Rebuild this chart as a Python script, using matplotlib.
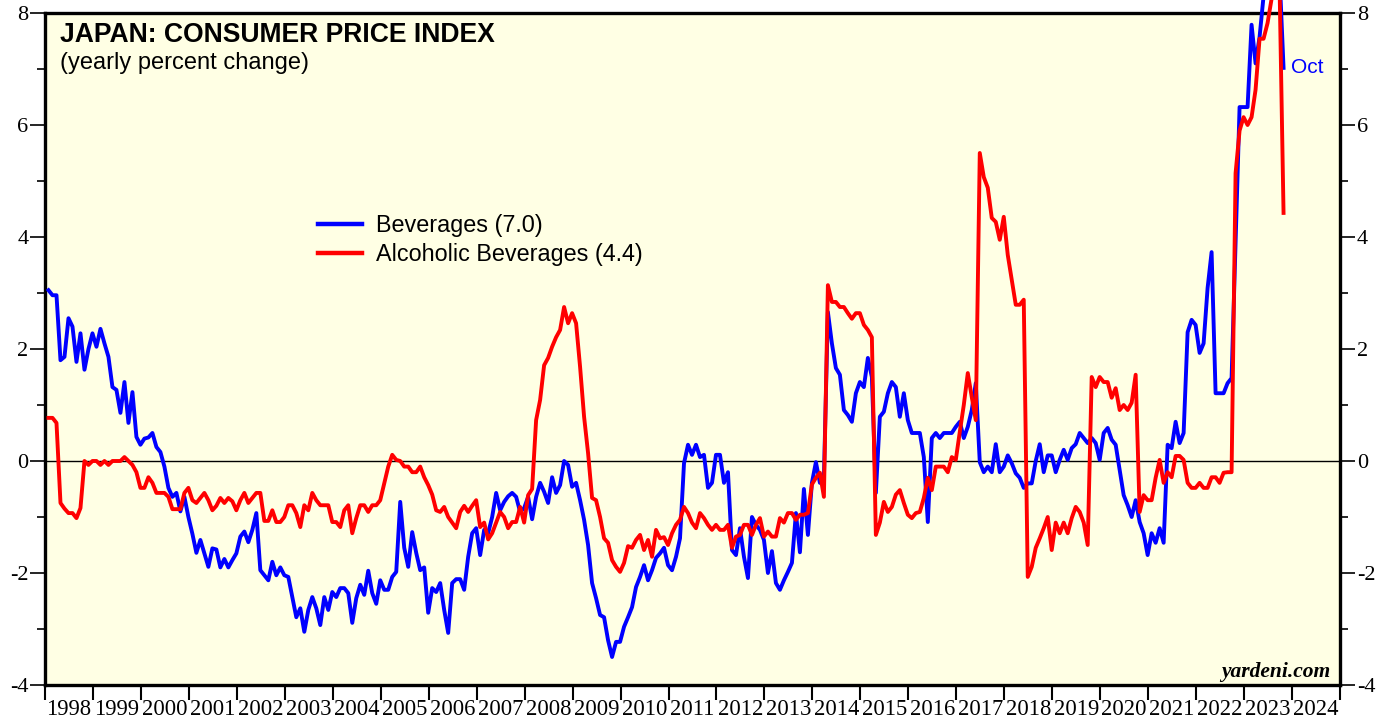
import numpy as np
import matplotlib
matplotlib.use("Agg")
import matplotlib.pyplot as plt
from matplotlib.ticker import FixedLocator, NullFormatter

plt.rcParams["axes.unicode_minus"] = False

### DATA (yearly % change, monthly, Jan 1998 - Oct 2023) ###

start_year = 1998
last_label = "Oct"

# Beverages
beverages = [
    3.05, 2.96, 2.96, 1.80, 1.86, 2.55, 2.40, 1.77, 2.28, 1.63, 2.00, 2.28,  # 1998
    2.04, 2.36, 2.10, 1.86, 1.32, 1.27, 0.86, 1.41, 0.68, 1.23, 0.43, 0.29,  # 1999
    0.40, 0.42, 0.50, 0.25, 0.16, -0.10, -0.48, -0.64, -0.57, -0.90, -0.64, -1.00,  # 2000
    -1.30, -1.64, -1.41, -1.65, -1.89, -1.56, -1.58, -1.90, -1.75, -1.90, -1.77, -1.65,  # 2001
    -1.35, -1.26, -1.45, -1.23, -0.93, -1.95, -2.04, -2.13, -1.80, -2.04, -1.90, -2.04,  # 2002
    -2.07, -2.43, -2.79, -2.63, -3.05, -2.66, -2.43, -2.63, -2.93, -2.43, -2.66, -2.34,  # 2003
    -2.43, -2.27, -2.27, -2.36, -2.89, -2.45, -2.21, -2.39, -1.96, -2.36, -2.55, -2.13,  # 2004
    -2.30, -2.30, -2.07, -1.98, -0.73, -1.55, -1.89, -1.27, -1.64, -1.95, -1.90, -2.71,  # 2005
    -2.27, -2.34, -2.18, -2.66, -3.07, -2.18, -2.11, -2.11, -2.30, -1.71, -1.29, -1.20,  # 2006
    -1.68, -1.23, -1.29, -1.00, -0.57, -0.88, -0.73, -0.63, -0.57, -0.64, -0.91, -0.84,  # 2007
    -0.64, -1.04, -0.64, -0.39, -0.55, -0.75, -0.29, -0.57, -0.43, 0.00, -0.07, -0.46,  # 2008
    -0.39, -0.70, -1.05, -1.50, -2.18, -2.45, -2.75, -2.79, -3.20, -3.50, -3.23, -3.23,  # 2009
    -2.96, -2.79, -2.61, -2.25, -2.07, -1.86, -2.13, -1.95, -1.73, -1.65, -1.55, -1.86,  # 2010
    -1.95, -1.71, -1.38, -0.04, 0.29, 0.11, 0.29, 0.07, 0.11, -0.48, -0.39, 0.11,  # 2011
    0.11, -0.39, -0.20, -1.59, -1.68, -1.20, -1.71, -2.09, -1.00, -1.14, -1.23, -1.41,  # 2012
    -2.00, -1.61, -2.18, -2.30, -2.13, -1.98, -1.82, -0.93, -1.63, -0.50, -1.32, -0.39,  # 2013
    -0.02, -0.39, -0.30, 2.66, 2.10, 1.66, 1.54, 0.91, 0.82, 0.70, 1.21, 1.41,  # 2014
    1.32, 1.84, 1.50, -0.57, 0.79, 0.88, 1.21, 1.41, 1.32, 0.79, 1.21, 0.73,  # 2015
    0.50, 0.50, 0.50, 0.07, -1.09, 0.41, 0.50, 0.41, 0.50, 0.50, 0.50, 0.61,  # 2016
    0.70, 0.41, 0.61, 0.91, 1.39, -0.02, -0.20, -0.10, -0.20, 0.30, -0.20, -0.10,  # 2017
    0.10, -0.04, -0.22, -0.30, -0.48, -0.40, -0.40, 0.00, 0.30, -0.20, 0.10, 0.10,  # 2018
    -0.20, 0.02, 0.20, 0.02, 0.23, 0.30, 0.50, 0.41, 0.32, 0.41, 0.32, 0.02,  # 2019
    0.50, 0.59, 0.38, 0.29, -0.16, -0.61, -0.79, -1.00, -0.70, -1.09, -1.29, -1.68,  # 2020
    -1.29, -1.46, -1.20, -1.46, 0.29, 0.23, 0.70, 0.32, 0.50, 2.30, 2.52, 2.43,  # 2021
    1.93, 2.10, 3.09, 3.73, 1.21, 1.21, 1.21, 1.39, 1.48, 3.90, 6.32, 6.32,  # 2022
    6.32, 7.79, 7.10, 7.57, 8.30, 8.90, 9.20, 9.00, 8.70, 7.02,  # 2023
]

# Alcoholic beverages
alcoholic = [
    0.77, 0.77, 0.68, -0.75, -0.85, -0.93, -0.93, -1.02, -0.84, 0.00, -0.07, 0.00,  # 1998
    0.00, -0.07, 0.00, -0.07, 0.00, 0.00, 0.00, 0.07, 0.00, -0.07, -0.20, -0.48,  # 1999
    -0.48, -0.29, -0.39, -0.57, -0.57, -0.57, -0.64, -0.86, -0.86, -0.86, -0.57, -0.48,  # 2000
    -0.70, -0.75, -0.66, -0.57, -0.70, -0.88, -0.80, -0.66, -0.75, -0.66, -0.72, -0.88,  # 2001
    -0.70, -0.57, -0.75, -0.66, -0.57, -0.57, -1.07, -1.07, -0.88, -1.09, -1.09, -1.00,  # 2002
    -0.79, -0.79, -0.93, -1.18, -0.79, -0.88, -0.57, -0.70, -0.79, -0.79, -0.79, -1.09,  # 2003
    -1.09, -1.18, -0.88, -0.79, -1.29, -1.02, -0.79, -0.79, -0.91, -0.79, -0.79, -0.70,  # 2004
    -0.40, -0.10, 0.11, 0.02, 0.00, -0.10, -0.10, -0.20, -0.20, -0.10, -0.29, -0.43,  # 2005
    -0.60, -0.88, -0.91, -0.82, -1.00, -1.10, -1.20, -0.91, -0.80, -0.91, -0.80, -0.70,  # 2006
    -1.18, -1.10, -1.40, -1.29, -1.10, -0.91, -1.00, -1.20, -1.09, -1.09, -0.82, -1.10,  # 2007
    -0.61, -0.50, 0.73, 1.09, 1.71, 1.84, 2.04, 2.21, 2.34, 2.75, 2.46, 2.64,  # 2008
    2.46, 1.68, 0.79, 0.14, -0.66, -0.70, -1.00, -1.38, -1.46, -1.77, -1.89, -1.98,  # 2009
    -1.82, -1.52, -1.55, -1.41, -1.32, -1.59, -1.41, -1.71, -1.23, -1.38, -1.36, -1.50,  # 2010
    -1.29, -1.14, -1.05, -0.82, -0.93, -1.10, -1.20, -0.93, -1.02, -1.14, -1.23, -1.14,  # 2011
    -1.23, -1.23, -1.14, -1.55, -1.35, -1.32, -1.14, -1.14, -1.32, -1.14, -1.02, -1.35,  # 2012
    -1.26, -1.35, -1.35, -1.02, -1.10, -0.93, -0.93, -1.05, -0.96, -0.96, -0.93, -0.42,  # 2013
    -0.30, -0.21, -0.64, 3.14, 2.84, 2.84, 2.75, 2.75, 2.64, 2.54, 2.64, 2.64,  # 2014
    2.43, 2.34, 2.21, -1.32, -1.10, -0.73, -0.91, -0.82, -0.60, -0.52, -0.75, -0.96,  # 2015
    -1.02, -0.93, -0.91, -0.66, -0.30, -0.52, -0.10, -0.10, -0.10, -0.20, 0.07, 0.02,  # 2016
    0.52, 1.00, 1.57, 1.14, 0.73, 5.50, 5.07, 4.88, 4.34, 4.27, 3.95, 4.36,  # 2017
    3.68, 3.23, 2.79, 2.79, 2.88, -2.07, -1.89, -1.55, -1.38, -1.20, -1.00, -1.59,  # 2018
    -1.10, -1.29, -1.10, -1.29, -1.02, -0.82, -0.91, -1.10, -1.50, 1.50, 1.32, 1.50,  # 2019
    1.41, 1.41, 1.13, 1.30, 0.91, 1.00, 0.91, 1.04, 1.54, -0.91, -0.61, -0.70,  # 2020
    -0.70, -0.30, 0.02, -0.39, -0.20, -0.29, 0.09, 0.09, 0.02, -0.39, -0.48, -0.48,  # 2021
    -0.39, -0.48, -0.48, -0.29, -0.29, -0.39, -0.21, -0.20, -0.20, 5.14, 5.90, 6.14,  # 2022
    6.00, 6.14, 6.63, 7.54, 7.54, 7.82, 8.25, 8.70, 8.50, 4.43,  # 2023
]

year_labels = [str(y) for y in range(1998, 2025)]
y_ticks = [-4, -2, 0, 2, 4, 6, 8]

# x position of each month (points sit near the end of the month)
t = start_year + (np.arange(len(beverages)) + 0.875) / 12.0

##################
### DRAW CHART ###
##################

fig = plt.figure(figsize=(13.95, 7.19), dpi=100)
ax = fig.add_axes([45 / 1395, 1 - 685 / 719, 1295 / 1395, 672 / 719])
ax.set_facecolor("#FFFFE4")

ax.axhline(0, color="black", lw=1.0, zorder=1)

ax.plot(t, beverages, color="#0000FF", lw=2.8, clip_on=False, zorder=3,
        label="Beverages (%.1f)" % beverages[-1])
ax.plot(t, alcoholic, color="#FF0000", lw=2.8, clip_on=False, zorder=4,
        label="Alcoholic Beverages (%.1f)" % alcoholic[-1])

ax.set_xlim(1998, 2025)
ax.set_ylim(-4, 8)

for s in ax.spines.values():
    s.set_linewidth(2.4)

# y axis on both sides
ax.set_yticks(y_ticks)
ax.yaxis.set_minor_locator(FixedLocator([-3, -1, 1, 3, 5, 7]))
ax.tick_params(axis="y", which="both", left=True, right=True, labelleft=True,
               labelright=True, direction="out")
ax.tick_params(axis="y", which="major", length=11, width=1.2, pad=1,
               labelsize=16)
ax.tick_params(axis="y", which="minor", length=6, width=1.2)
for lab in ax.get_yticklabels():
    lab.set_fontfamily("Liberation Serif")

# x axis: ticks at year boundaries, labels between them
ax.xaxis.set_major_locator(FixedLocator(list(range(1998, 2026))))
ax.xaxis.set_major_formatter(NullFormatter())
ax.xaxis.set_minor_locator(FixedLocator([y + 0.5 for y in range(1998, 2025)]))
ax.set_xticklabels(year_labels, minor=True, fontfamily="Liberation Serif",
                   fontsize=16.3)
ax.tick_params(axis="x", which="major", direction="out", length=11, width=1.5)
ax.tick_params(axis="x", which="minor", length=0, pad=10)

# titles
fig.text(60 / 1395, 1 - 42 / 719, "JAPAN: CONSUMER PRICE INDEX",
         fontfamily="Liberation Sans", fontweight="bold", fontsize=19.1,
         va="baseline", ha="left")
fig.text(60 / 1395, 1 - 69 / 719, "(yearly percent change)",
         fontfamily="Liberation Sans", fontsize=17, va="baseline", ha="left")

leg = ax.legend(loc="upper left", bbox_to_anchor=((318 - 45) / 1295, (685 - 214) / 672),
                frameon=False, borderpad=0, borderaxespad=0, handlelength=1.9,
                handletextpad=0.6, labelspacing=0.25,
                prop={"family": "Liberation Sans", "size": 16.8})
for h in leg.get_lines():
    h.set_linewidth(3.2)

ax.text(t[-1] + 0.15, beverages[-1], last_label, color="#0000FF",
        fontfamily="Liberation Sans", fontsize=15, va="center", ha="left")

fig.text(1330 / 1395, 1 - 677 / 719, "yardeni.com", fontfamily="Liberation Serif",
         fontweight="bold", fontstyle="italic", fontsize=15.5, ha="right",
         va="baseline")

fig.savefig("out.png", dpi=100)
